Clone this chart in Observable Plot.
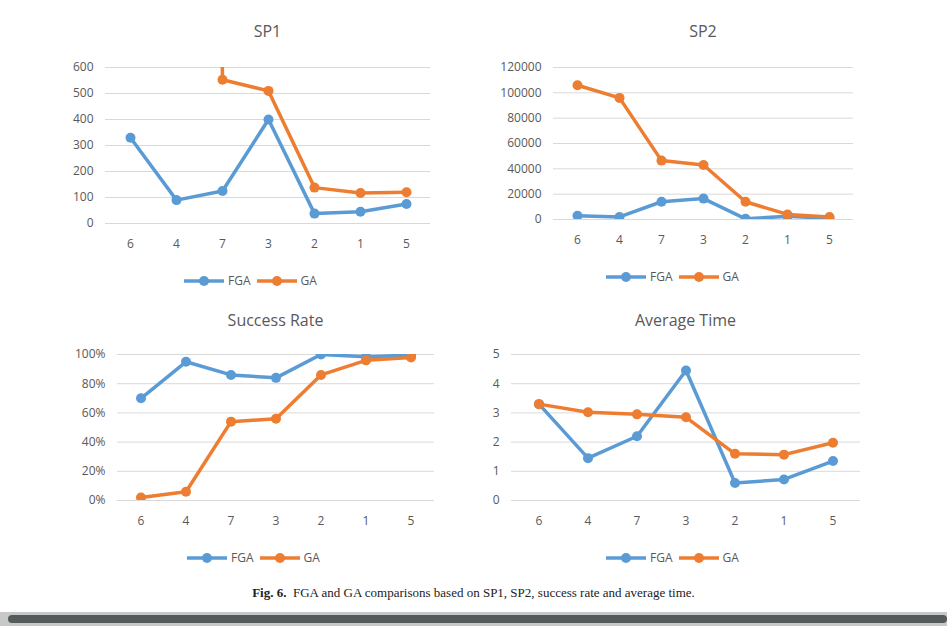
<!DOCTYPE html>
<html><head><meta charset="utf-8">
<script src="https://cdn.jsdelivr.net/npm/d3@7"></script>
<script src="https://cdn.jsdelivr.net/npm/@observablehq/plot@0.6"></script>
<style>
body{margin:0;background:#fff;width:947px;height:626px;position:relative;overflow:hidden;font-family:"Open Sans",sans-serif}
.abs{position:absolute}
.title{font-size:16px;color:#595959;text-align:center;width:300px}
.leg{font-size:12px;color:#595959;display:flex;align-items:center;gap:4px}
</style></head><body>
<script>
const categories = ["6","4","7","3","2","1","5"];
const sp1FGA = [330, 90, 125, 400, 38, 45, 75];
const sp1GA  = [20000, 15000, 553, 510, 138, 117, 120];
const sp2FGA = [3000, 2000, 14000, 16500, 500, 2500, 1000];
const sp2GA  = [106000, 96000, 46500, 43000, 14000, 4000, 2000];
const srFGA  = [0.70, 0.95, 0.86, 0.84, 1.00, 0.985, 0.995];
const srGA   = [0.02, 0.06, 0.54, 0.56, 0.86, 0.96, 0.98];
const atFGA  = [3.3, 1.45, 2.2, 4.45, 0.6, 0.72, 1.35];
const atGA   = [3.3, 3.02, 2.95, 2.85, 1.6, 1.57, 1.98];
const BLUE="#5B9BD5", ORANGE="#ED7D31";

function panel({left, top, x0, x1, yTop, yBot, domain, ticks, fmt, fga, ga, title, titleY, legY, legX}) {
  const svgLeft = x0 - 55, svgTop = yTop - 20;
  const width = x1 - svgLeft + 10, height = yBot - svgTop + 40;
  const data = [];
  categories.forEach((c,i)=>{data.push({c, s:"FGA", v:fga[i]}); data.push({c, s:"GA", v:ga[i]});});
  const p = Plot.plot({
    width, height, marginLeft:55, marginRight:10, marginTop:20, marginBottom:40,
    style:{fontFamily:"Open Sans", fontSize:"12px", color:"#595959", overflow:"visible"},
    x:{type:"band", domain:categories, padding:0, label:null, tickSize:0, tickPadding:16},
    y:{domain, ticks, tickFormat:fmt, label:null, tickSize:0, tickPadding:12},
    color:{domain:["FGA","GA"], range:[BLUE, ORANGE]},
    marks:[
      Plot.gridY(ticks, {stroke:"#d9d9d9", strokeOpacity:1}),
      Plot.line(data, {x:"c", y:"v", z:"s", stroke:"s", strokeWidth:3.5, clip:true}),
      Plot.dot(data, {x:"c", y:"v", fill:"s", r:5, clip:true})
    ]
  });
  p.classList.add("abs"); p.style.left=svgLeft+"px"; p.style.top=svgTop+"px";
  document.body.appendChild(p);
  const t=document.createElement("div"); t.className="abs title"; t.textContent=title;
  t.style.left=((x0+x1)/2-150)+"px"; t.style.top=titleY+"px"; document.body.appendChild(t);
  const l=document.createElement("div"); l.className="abs leg"; l.style.left=legX+"px"; l.style.top=legY+"px";
  l.innerHTML=`<svg width="40" height="12"><line x1="0" x2="40" y1="6" y2="6" stroke="${BLUE}" stroke-width="3.5"/><circle cx="20" cy="6" r="5" fill="${BLUE}"/></svg><span>FGA</span>
  <svg width="40" height="12" style="margin-left:2px"><line x1="0" x2="40" y1="6" y2="6" stroke="${ORANGE}" stroke-width="3.5"/><circle cx="20" cy="6" r="5" fill="${ORANGE}"/></svg><span>GA</span>`;
  document.body.appendChild(l);
}
panel({x0:105,x1:430,yTop:67,yBot:223,domain:[0,600],ticks:d3.range(0,601,100),fmt:d3.format("d"),fga:sp1FGA,ga:sp1GA,title:"SP1",titleY:20,legY:272,legX:184});
panel({x0:553,x1:853,yTop:67,yBot:219,domain:[0,120000],ticks:d3.range(0,120001,20000),fmt:d3.format("d"),fga:sp2FGA,ga:sp2GA,title:"SP2",titleY:20,legY:268,legX:606});
panel({x0:117,x1:434,yTop:354,yBot:500,domain:[0,1],ticks:d3.range(0,1.01,0.2),fmt:d3.format(".0%"),fga:srFGA,ga:srGA,title:"Success Rate",titleY:309,legY:549,legX:187});
panel({x0:511,x1:860,yTop:354,yBot:500,domain:[0,5],ticks:d3.range(0,6,1),fmt:d3.format("d"),fga:atFGA,ga:atGA,title:"Average Time",titleY:309,legY:549,legX:606});
</script>
<div class="abs" style="left:0;width:947px;top:585px;text-align:center;font-family:'Liberation Serif',serif;font-size:13px;color:#222"><b>Fig. 6.</b>&nbsp; FGA and GA comparisons based on SP1, SP2, success rate and average time.</div>
<div class="abs" style="left:0;top:612px;width:947px;height:14px;background:#c8c8c8"></div>
<div class="abs" style="left:8px;top:615px;width:939px;height:8px;background:#555a5a;border-radius:4px"></div>
</body></html>
